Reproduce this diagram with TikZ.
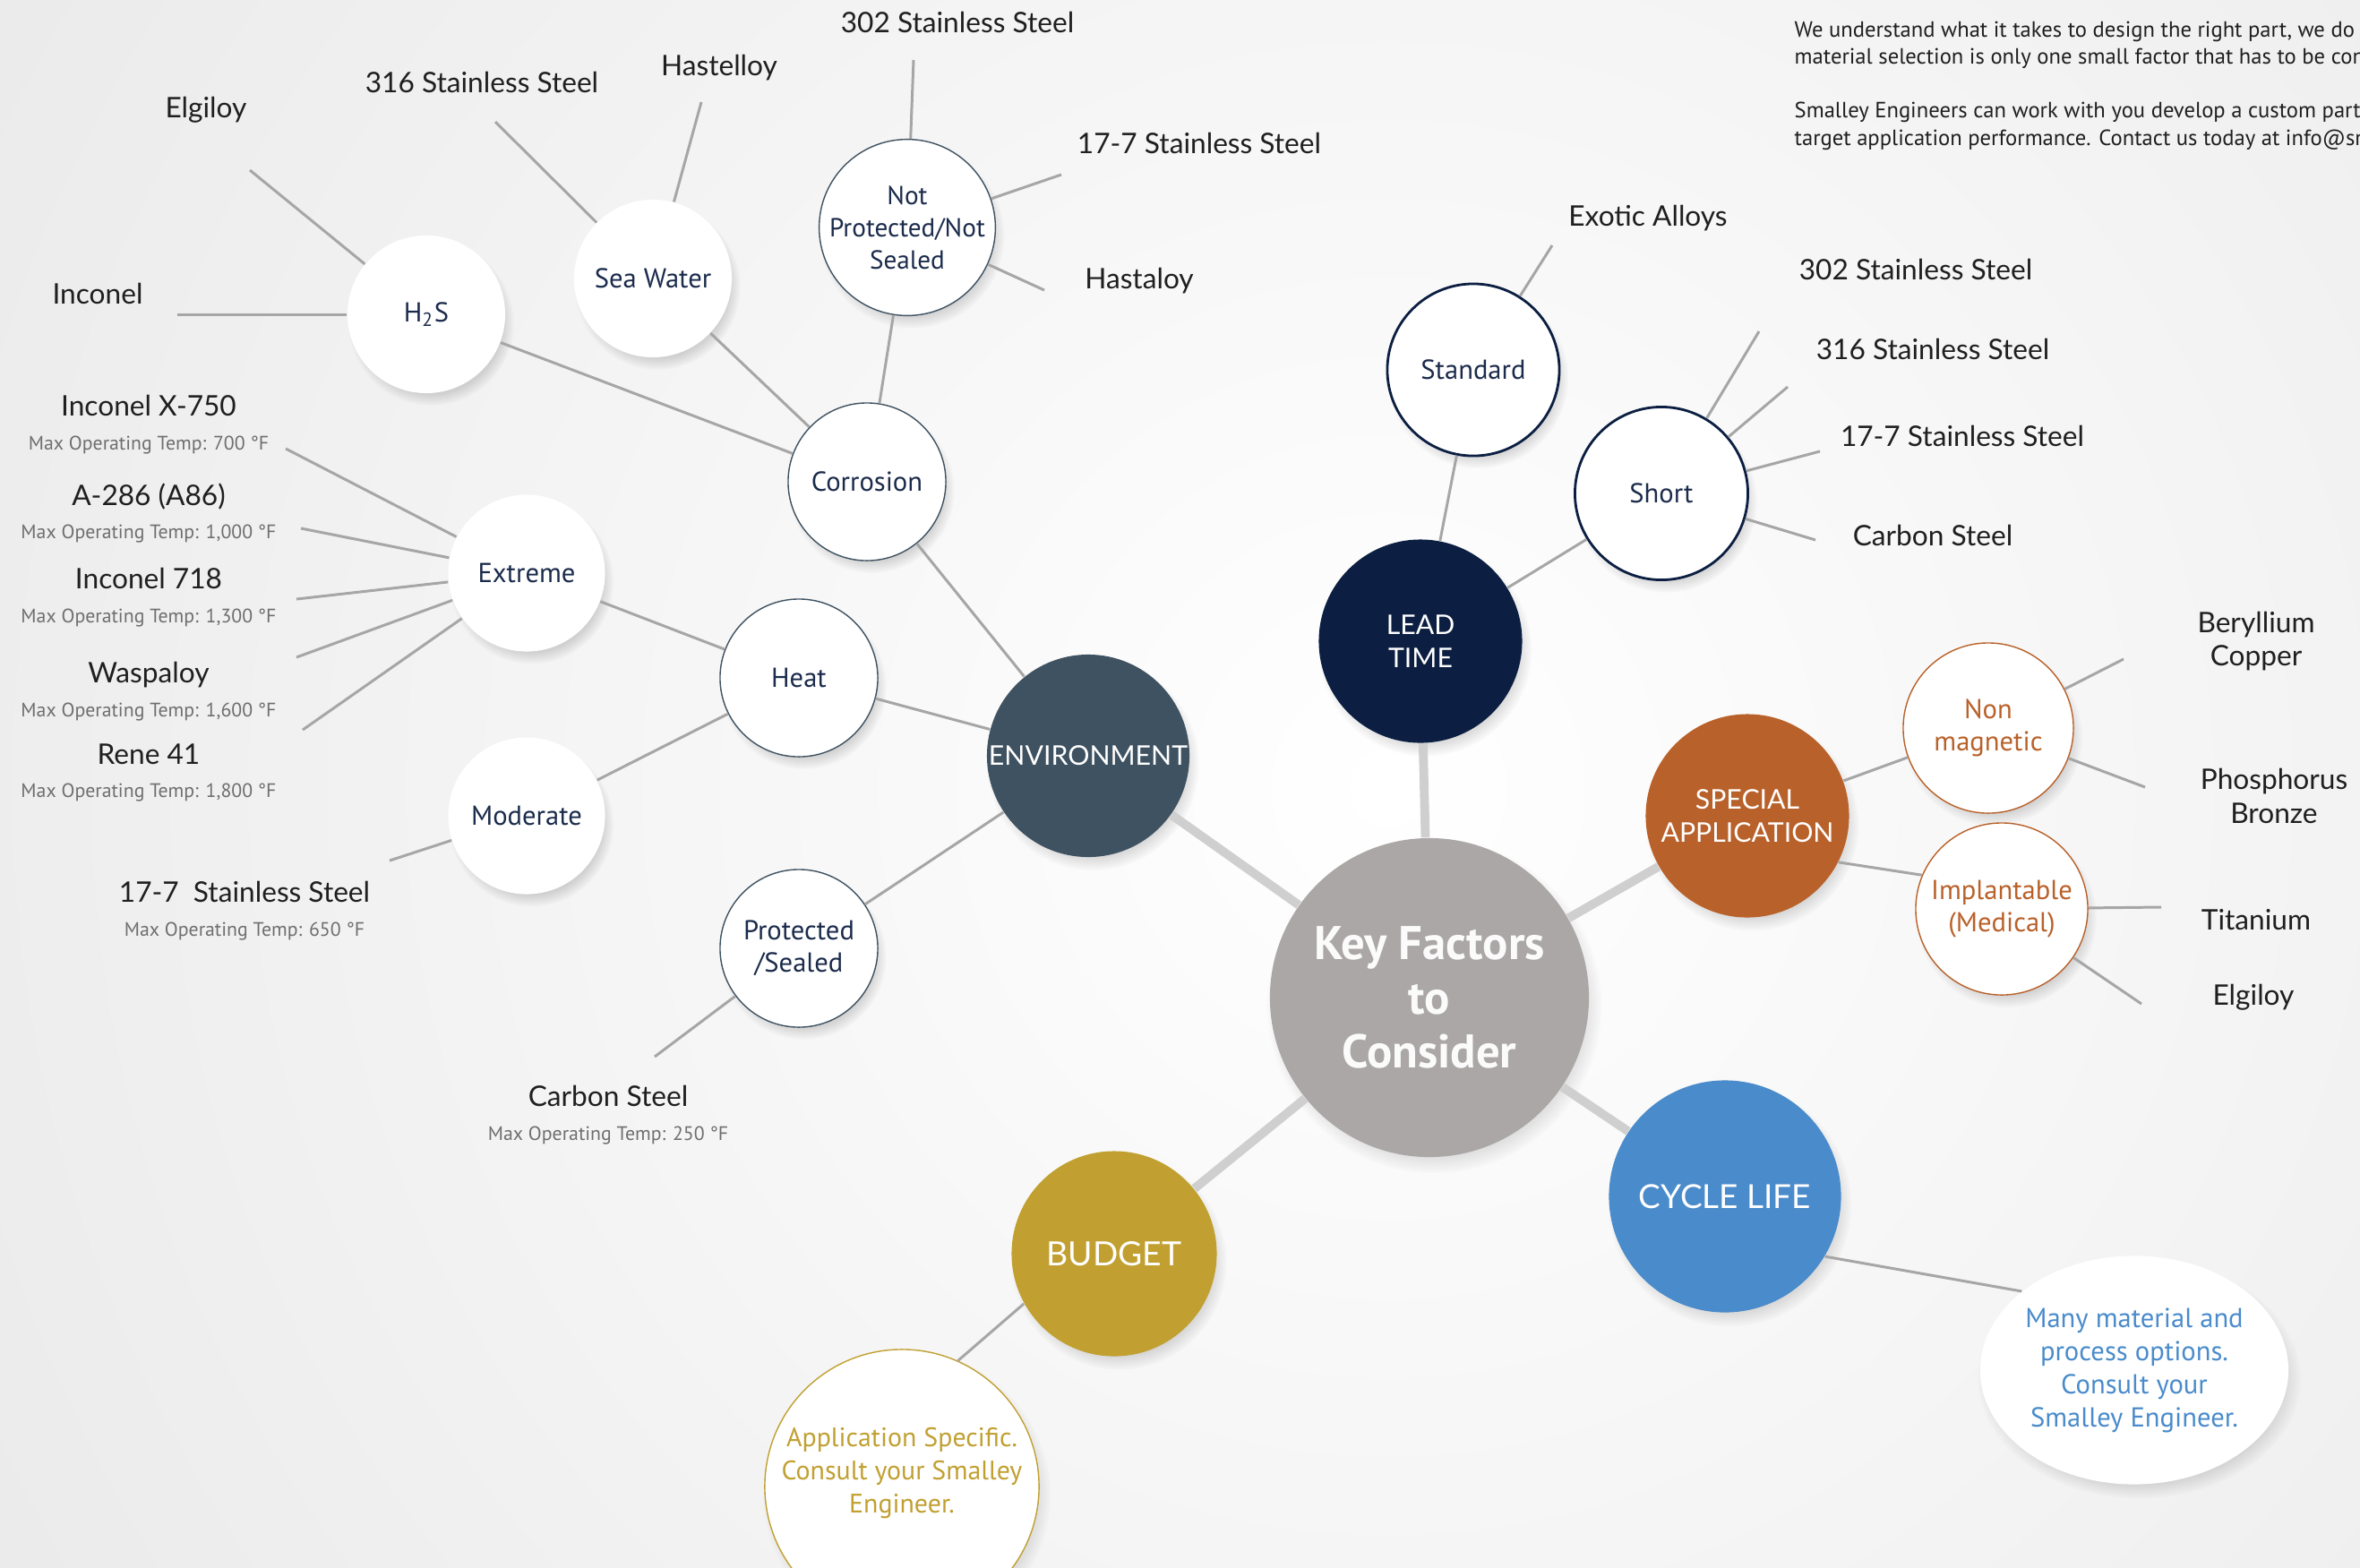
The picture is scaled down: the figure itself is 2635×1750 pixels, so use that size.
\documentclass[tikz,border=0pt]{standalone}
\usepackage{fontspec}
\setmainfont{Lato}
\newfontfamily\myriad{PT Sans}
\usetikzlibrary{shapes.geometric,shadows,fadings}

\definecolor{navy}{HTML}{0C1F42}
\definecolor{slate}{HTML}{3F5261}
\definecolor{rust}{HTML}{B9612A}
\definecolor{sky}{HTML}{4A8BCB}
\definecolor{gold}{HTML}{C1A031}
\definecolor{stone}{HTML}{ABA7A6}
\definecolor{ink}{HTML}{1B2B4B}
\definecolor{wire}{HTML}{A6A6A6}
\definecolor{spoke}{HTML}{CFCFCF}
\definecolor{haze}{HTML}{D6D6D6}
\definecolor{tempgray}{HTML}{6E6E6E}

% second line under an alloy name
\newcommand{\maxtemp}[1]{\\{\myriad\fontsize{6.2}{7}\selectfont\color{tempgray}Max Operating Temp: #1 °F}}

\begin{document}
\begin{tikzpicture}[x=0.01cm,y=-0.01cm,
  ballshadow/.style={circular drop shadow={shadow xshift=0.05cm,shadow yshift=-0.09cm,opacity=0.3,shadow scale=1.05}},
  factor/.style={circle,inner sep=0pt,align=center,text=white,ballshadow,
    font=\fontsize{8.6}{10.5}\selectfont},
  bubble/.style={circle,fill=white,inner sep=0pt,minimum size=1.76cm,align=center,
    text=ink,ballshadow,font=\myriad\fontsize{8.7}{10.4}\selectfont},
  material/.style={align=center,text=black!88,font=\fontsize{9}{10.6}\selectfont},
  spokeline/.style={draw=spoke,line width=2.8pt},
  twig/.style={draw=wire,line width=0.85pt},
]
\useasboundingbox (0,0) rectangle (2635,1750);
\clip (0,0) rectangle (2635,1750);
% soft grey backdrop, brighter towards the middle
\fill[haze] (0,0) rectangle (2635,1750);
\shade[inner color=white,outer color=haze] (1550,880) circle (3600);

% centre and the five factors
\node[factor,fill=stone,minimum size=3.56cm,text=white!95!stone,
  font=\myriad\bfseries\fontsize{15}{17.3}\selectfont] (key) at (1596,1114) {Key Factors\\to\\Consider};
\node[factor,fill=slate,minimum size=2.26cm] (env) at (1215,844) {ENVIRONMENT};
\node[factor,fill=navy,minimum size=2.27cm] (lead) at (1586,716) {LEAD\\TIME};
\node[factor,fill=rust,minimum size=2.27cm] (spec) at (1951,911) {SPECIAL\\APPLICATION};
\node[factor,fill=sky,minimum size=2.59cm,font=\fontsize{10.5}{12}\selectfont] (cycle) at (1926,1336) {CYCLE LIFE};
\node[factor,fill=gold,minimum size=2.29cm,font=\fontsize{10.6}{12}\selectfont] (budget) at (1244,1400) {BUDGET};

% environment branch
\node[bubble,draw=slate,line width=0.4pt] (corr) at (968,538) {Corrosion};
\node[bubble,draw=slate,line width=0.4pt] (heat) at (892,757) {Heat};
\node[bubble,draw=slate,line width=0.4pt] (prot) at (892,1059) {Protected\\/Sealed};
\node[bubble,draw=slate,line width=0.4pt,minimum size=1.78cm,font=\myriad\fontsize{8.3}{10.2}\selectfont] (np) at (1013,254) {Not\\Protected/Not\\Sealed};
\node[bubble] (sea) at (729,311) {Sea Water};
\node[bubble] (hts) at (476,351) {H\textsubscript{2}S};
\node[bubble,minimum size=1.75cm] (ext) at (588,640) {Extreme};
\node[bubble,minimum size=1.75cm] (mod) at (588,911) {Moderate};

% lead time branch
\node[bubble,draw=navy,line width=0.8pt,minimum size=1.92cm] (std) at (1645,413) {Standard};
\node[bubble,draw=navy,line width=0.8pt,minimum size=1.93cm] (short) at (1855,551) {Short};

% special application branch
\node[bubble,draw=rust,line width=0.4pt,minimum size=1.9cm,text=rust] (nonmag) at (2220,813) {Non\\magnetic};
\node[bubble,draw=rust,line width=0.4pt,minimum size=1.92cm,text=rust] (impl) at (2235,1015) {Implantable\\(Medical)};

% notes under cycle life and budget
\node[ellipse,fill=white,inner sep=0pt,minimum width=3.02cm,minimum height=2.55cm,ballshadow,
  align=center,text=sky,font=\myriad\fontsize{8.7}{10.5}\selectfont] (many) at (2383,1530)
  {Many material and\\process options.\\Consult your\\Smalley Engineer.};
\node[bubble,draw=gold,line width=0.4pt,minimum size=3.06cm,
  label={[yshift=0.15cm,align=center,text=gold,font=\myriad\fontsize{8.5}{10.5}\selectfont]center:{Application Specific.\\Consult your Smalley\\Engineer.}}]
  (appl) at (1007,1660) {};

% alloy names
\node[material] (l302a) at (1069,25) {302 Stainless Steel};
\node[material] (lhy) at (803,76) {Hastelloy};
\node[material] (l316a) at (538,92) {316 Stainless Steel};
\node[material] (lelga) at (230,123) {Elgiloy};
\node[material] (linc) at (109,328) {Inconel};
\node[material] (l177a) at (1339,160) {17-7 Stainless Steel};
\node[material] (lha) at (1272,314) {Hastaloy};
\node[material] (lx750) at (166,474) {Inconel X-750\maxtemp{700}};
\node[material] (la286) at (166,573) {A-286 (A86)\maxtemp{1,000}};
\node[material] (l718) at (166,667) {Inconel 718\maxtemp{1,300}};
\node[material] (lwasp) at (166,772) {Waspaloy\maxtemp{1,600}};
\node[material] (lrene) at (166,863) {Rene 41\maxtemp{1,800}};
\node[material] (l177b) at (273,1017) {17-7~ Stainless Steel\maxtemp{650}};
\node[material] (lcarba) at (679,1245) {Carbon Steel\maxtemp{250}};
\node[material] (lexo) at (1840,244) {Exotic Alloys};
\node[material] (l302b) at (2139,301) {302 Stainless Steel};
\node[material] (l316b) at (2158,390) {316 Stainless Steel};
\node[material] (l177c) at (2191,487) {17-7 Stainless Steel};
\node[material] (lcarbb) at (2158,598) {Carbon Steel};
\node[material] (lbecu) at (2519,716) {Beryllium\\Copper};
\node[material] (lphos) at (2539,889) {Phosphorus\\Bronze};
\node[material] (lti) at (2519,1027) {Titanium};
\node[material] (lelgb) at (2516,1114) {Elgiloy};

% blurb, runs off the right edge
\node[anchor=north west,inner sep=0pt,align=left,text=black!88,
  font=\myriad\fontsize{7}{8.6}\selectfont] (blurb) at (2003,23)
  {We understand what it takes to design the right part, we do\\
   material selection is only one small factor that has to be con\\[8.6pt]
   Smalley Engineers can work with you develop a custom part\\
   target application performance. Contact us today at info@sm};

% free ends of the thin lines
\coordinate (t302a) at (1020,67);  \coordinate (t177a) at (1185,195); \coordinate (tha) at (1166,324);
\coordinate (thy) at (783,114);    \coordinate (t316a) at (553,136);
\coordinate (telga) at (279,190);  \coordinate (tinc) at (198,351);
\coordinate (tx750) at (319,501);  \coordinate (ta286) at (336,590);  \coordinate (t718) at (331,669);
\coordinate (twasp) at (331,734);  \coordinate (trene) at (338,815);
\coordinate (t177b) at (435,961);  \coordinate (tcarba) at (731,1180);
\coordinate (texo) at (1733,274);
\coordinate (t302b) at (1964,370); \coordinate (t316b) at (1996,432);
\coordinate (t177c) at (2032,504); \coordinate (tcarbb) at (2027,603);
\coordinate (tbecu) at (2371,736); \coordinate (tphos) at (2395,879);
\coordinate (tti) at (2413,1013);  \coordinate (telgb) at (2391,1121);

% thick spokes from the centre
\foreach \f in {env,lead,spec,cycle,budget}
  \draw[spokeline] (key) -- (\f);

% thin branches
\draw[twig] (env) -- (corr);  \draw[twig] (env) -- (heat);  \draw[twig] (env) -- (prot);
\draw[twig] (corr) -- (np);   \draw[twig] (corr) -- (sea);  \draw[twig] (corr) -- (hts);
\draw[twig] (heat) -- (ext);  \draw[twig] (heat) -- (mod);
\draw[twig] (lead) -- (std);  \draw[twig] (lead) -- (short);
\draw[twig] (spec) -- (nonmag); \draw[twig] (spec.-27) -- (impl.157);
\draw[twig] (cycle.-31) -- (many.145);
\draw[twig] (budget.209) -- (appl.66);
\foreach \t in {t302a,t177a,tha} \draw[twig] (np) -- (\t);
\foreach \t in {thy,t316a} \draw[twig] (sea) -- (\t);
\foreach \t in {telga,tinc} \draw[twig] (hts) -- (\t);
\foreach \t in {tx750,ta286,t718,twasp,trene} \draw[twig] (ext) -- (\t);
\draw[twig] (mod) -- (t177b);
\draw[twig] (prot) -- (tcarba);
\draw[twig] (std) -- (texo);
\foreach \t in {t302b,t316b,t177c,tcarbb} \draw[twig] (short) -- (\t);
\foreach \t in {tbecu,tphos} \draw[twig] (nonmag) -- (\t);
\foreach \t in {tti,telgb} \draw[twig] (impl) -- (\t);
\end{tikzpicture}
\end{document}
